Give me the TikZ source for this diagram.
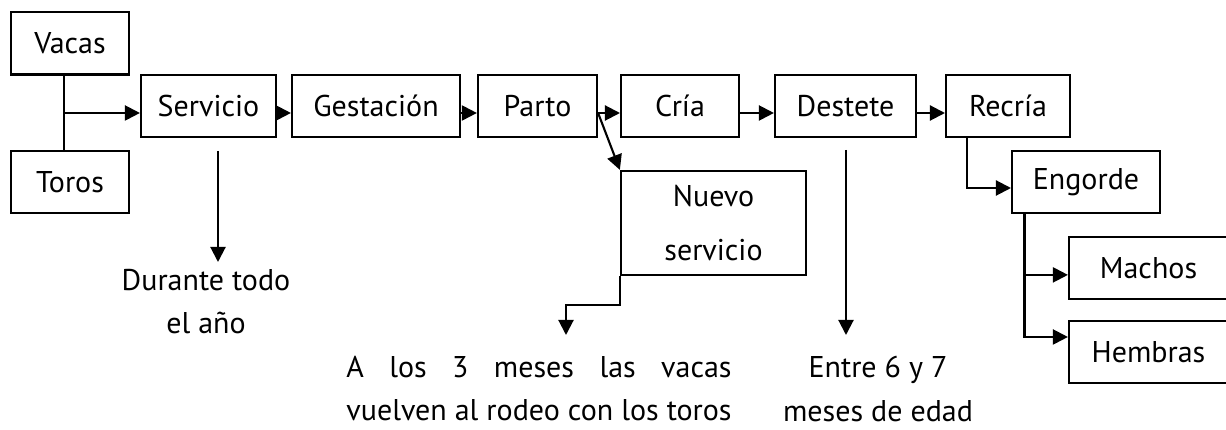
\documentclass[tikz,border=0pt]{standalone}
\usepackage{fontspec}
\setmainfont{PT Sans}
\usetikzlibrary{arrows.meta}

\newlength\anchofila

\begin{document}
\begin{tikzpicture}[x=0.3333pt, y=-0.3333pt, line width=0.7pt,
    caja/.style ={rectangle, draw, line width=0.7pt, minimum height=20.7pt, inner sep=0pt},
    nota/.style ={align=center, inner xsep=0pt, font=\fontsize{10pt}{14.5pt}\selectfont},
    flecha/.style ={-{Triangle[length=5pt, width=5pt]}}]
   \useasboundingbox (0,0) rectangle (1226,430);
   \clip (0,0) rectangle (1226,430);

   \node[caja, minimum width=39.3pt] (V) at (70,43.5) {Vacas};
   \node[caja, minimum width=39.3pt] (T) at (70,182) {Toros};
   \node[caja, minimum width=45pt] (S) at (208.5,106) {Servicio};
   \node[caja, minimum width=56pt] (G) at (376,106) {Gestación};
   \node[caja, minimum width=39.7pt] (P) at (537.5,106) {Parto};
   \node[caja, minimum width=39.3pt] (C) at (680,106) {Cría};
   \node[caja, minimum width=47pt] (D) at (845.5,106) {Destete};
   \node[caja, minimum width=41.3pt] (R) at (1008,106) {Recría};
   \node[caja, minimum width=49.3pt] (E) at (1086,182) {Engorde};
   \node[caja, minimum width=61.7pt, minimum height=34.7pt,
         font=\fontsize{10pt}{18pt}\selectfont, align=center] (N) at (713.5,223) {Nuevo\\servicio};
   \node[caja, minimum width=53pt] (M) at (1148.5,268) {Machos};
   \node[caja, minimum width=53pt] (H) at (1148.5,352) {Hembras};

   \node[nota, anchor=north, inner ysep=2pt] (L) at (206,262) {Durante todo\\el año};
   \node[nota, anchor=north, inner ysep=6.7pt] (A) at (539,335)
        {\settowidth{\anchofila}{vuelven al rodeo con los toros}%
         \makebox[\anchofila][s]{A los 3 meses las vacas}\\vuelven al rodeo con los toros};
   \node[nota, anchor=north, inner ysep=6.7pt] (F) at (878,335) {Entre 6 y 7\\meses de edad};

   \coordinate (U) at (64,113);
   \coordinate (U1) at (218,151);
   \coordinate (U2) at (846,150);
   \coordinate (U3) at (566,305);

   \draw (U |- V.south) to (U |- T.north);
   \draw[flecha] (U) to (U -| S.west);
   \draw[flecha] (S.east |- U) to (G.west |- U);
   \draw[flecha] (G.east |- U) to (P.west |- U);
   \draw[flecha] (P.east |- U) to (C.west |- U);
   \draw[flecha] (C.east |- U) to (D.west |- U);
   \draw[flecha] (D.east |- U) to (R.west |- U);
   \draw[flecha] (P.east |- U) to (N.north west);
   \draw[flecha] (N.south west) |- (U3) to (U3 |- A.north);
   \draw[flecha] (U1) to (U1 |- L.north);
   \draw[flecha] (U2) to (U2 |- F.north);
   \draw[flecha] ([xshift=7.3pt]R.south west) |- ([yshift=-2pt]E.west);
   \draw[flecha] ([xshift=4.5pt]E.south west) |- ([yshift=-2.3pt]M.west);
   \draw[flecha] ([xshift=4.5pt]E.south west) |- ([yshift=5pt]H.west);
 \end{tikzpicture}
\end{document}
